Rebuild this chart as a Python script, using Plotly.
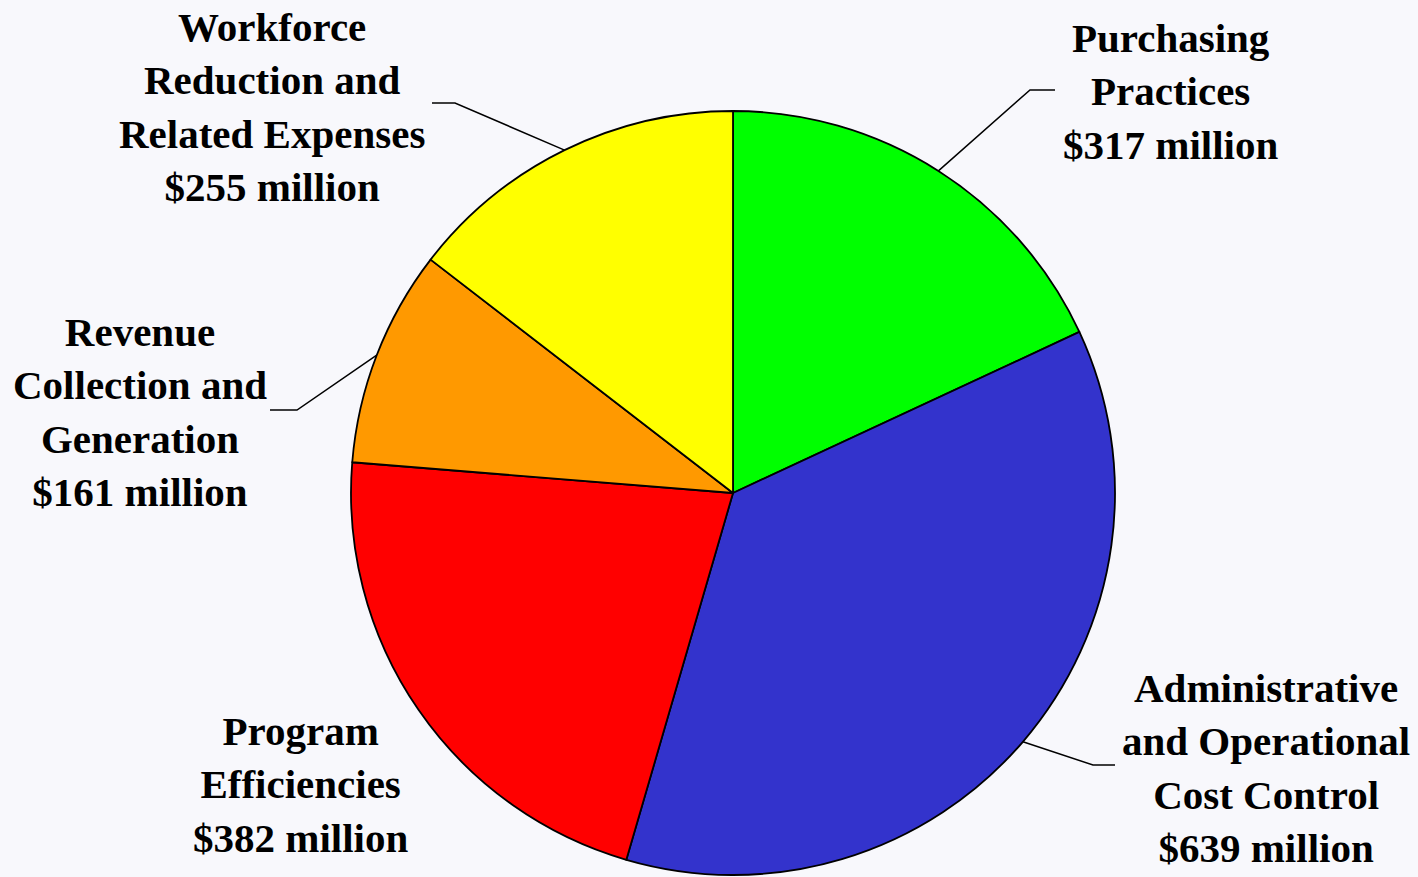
import math
import plotly.graph_objects as go

W, H = 1418, 877

categories = [
    "Purchasing Practices",
    "Administrative and Operational Cost Control",
    "Program Efficiencies",
    "Revenue Collection and Generation",
    "Workforce Reduction and Related Expenses",
]
values = [317, 639, 382, 161, 255]
label_texts = [
    "Purchasing<br>Practices<br>$317 million",
    "Administrative<br>and Operational<br>Cost Control<br>$639 million",
    "Program<br>Efficiencies<br>$382 million",
    "Revenue<br>Collection and<br>Generation<br>$161 million",
    "Workforce<br>Reduction and<br>Related Expenses<br>$255 million",
]
colors = ["#00FF00", "#3333CC", "#FF0000", "#FF9900", "#FFFF00"]

# layout (pixels)
cx, cy, R = 733, 493, 382
label_pos = [(1170, 91), (1266, 768), (300, 784), (140, 412), (272, 107)]
elbows = [(1030, 90, 1055), (1093, 765, 1115), None, (297, 410, 270), (455, 103, 432)]

def px(x):
    return x / W

def py(y):
    return 1 - y / H

fig = go.Figure(go.Pie(
    labels=categories,
    values=values,
    sort=False,
    direction="clockwise",
    rotation=0,
    marker=dict(colors=colors, line=dict(color="black", width=1.8)),
    textinfo="none",
    hoverinfo="label+value",
    domain=dict(x=[px(cx - R), px(cx + R)], y=[py(cy + R), py(cy - R)]),
    showlegend=False,
))

font = dict(family="Liberation Serif", size=41, color="black")
annotations = []
for txt, (lx, ly) in zip(label_texts, label_pos):
    annotations.append(dict(
        x=px(lx), y=py(ly), xref="paper", yref="paper",
        text="<b>" + txt + "</b>", showarrow=False,
        xanchor="center", yanchor="middle", align="center", font=font,
    ))

shapes = []
total = sum(values)
cum = 0
for v, e in zip(values, elbows):
    mid = (cum + v / 2) / total * 2 * math.pi
    cum += v
    if e is None:
        continue
    sx = cx + R * math.sin(mid)
    sy = cy - R * math.cos(mid)
    ex, ey, tx = e
    path = f"M {px(sx)} {py(sy)} L {px(ex)} {py(ey)} L {px(tx)} {py(ey)}"
    shapes.append(dict(type="path", path=path, xref="paper", yref="paper",
                       line=dict(color="black", width=1.5)))

fig.update_layout(
    width=W, height=H,
    margin=dict(l=0, r=0, t=0, b=0),
    paper_bgcolor="#F8F8FC",
    plot_bgcolor="#F8F8FC",
    annotations=annotations,
    shapes=shapes,
)

fig.write_html("out.html",
               config={"displayModeBar": False},
               post_script="document.body.style.margin='0';document.body.style.overflow='hidden';")
